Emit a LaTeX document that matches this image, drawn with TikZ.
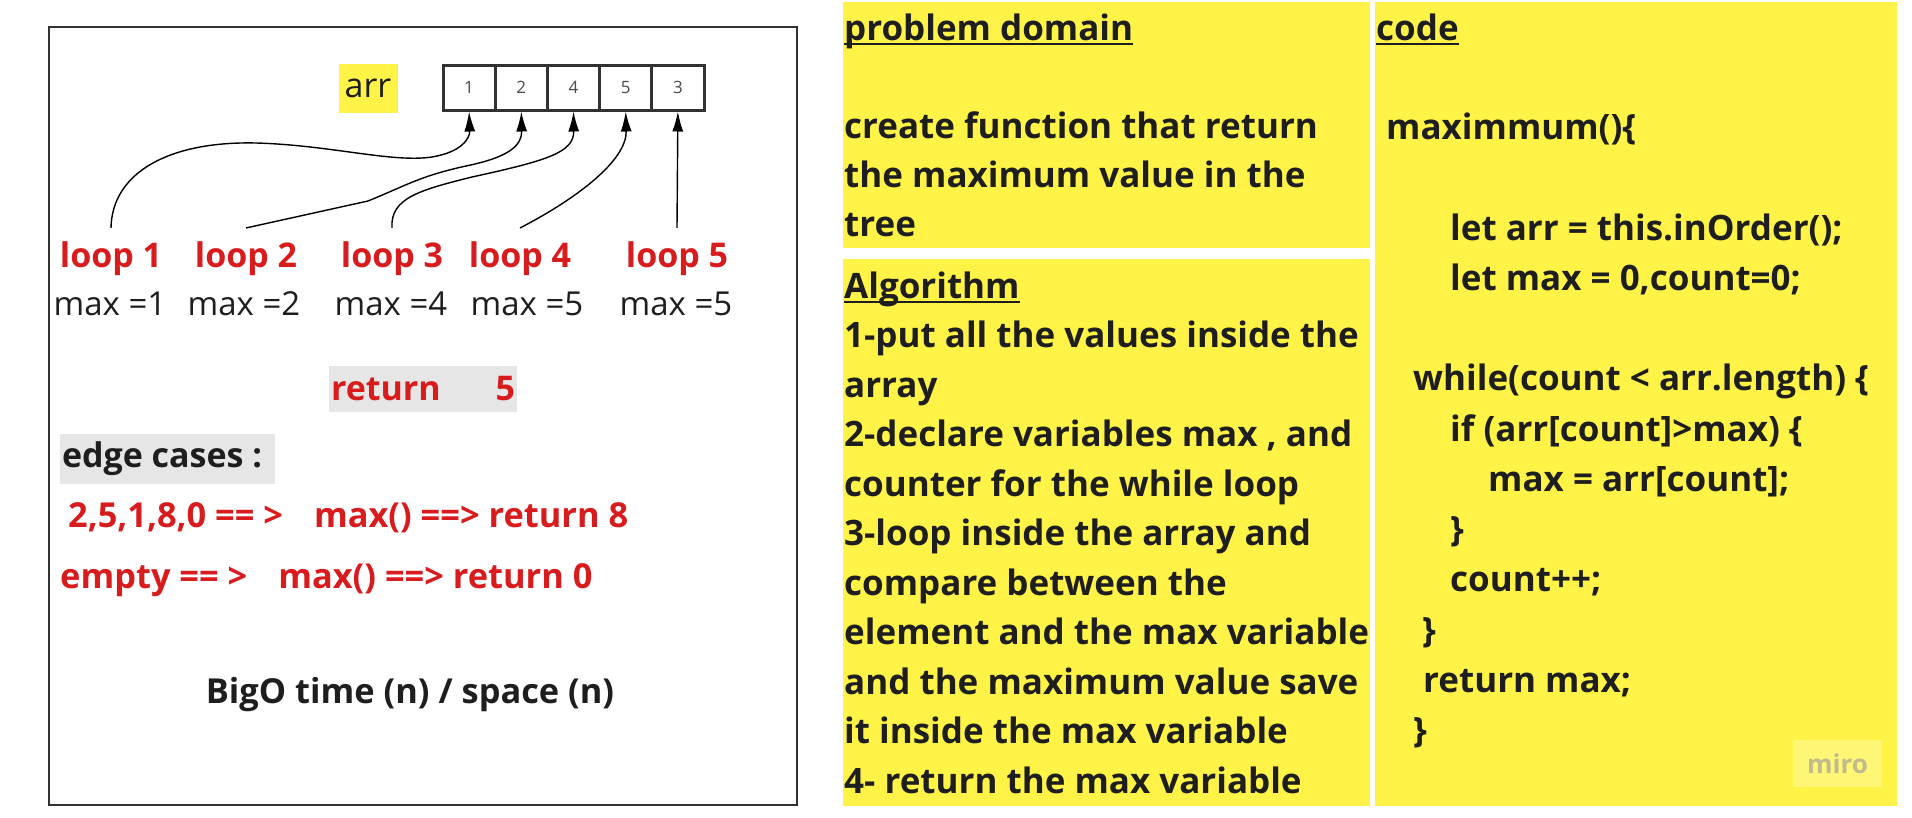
\documentclass[tikz,border=0pt]{standalone}
\usepackage{fontspec}
\setmainfont{Open Sans}
\usetikzlibrary{arrows.meta}
\definecolor{sticky}{RGB}{255,243,72}
\definecolor{ink}{RGB}{30,30,30}
\definecolor{redtxt}{RGB}{216,28,30}
\definecolor{grayfill}{RGB}{230,230,230}
\definecolor{framecol}{RGB}{50,50,50}
\definecolor{mirobox}{RGB}{255,246,118}
\definecolor{mirotxt}{RGB}{192,187,140}
\tikzset{
  body/.style={font=\bfseries\fontsize{35}{44}\selectfont, text=ink, inner sep=0pt, anchor=base west},
  ulline/.style={line width=2pt, draw=ink},
  cell/.style={draw=framecol, line width=3pt, minimum width=52.2pt, minimum height=45pt, inner sep=0pt,
    font=\fontsize{17}{20}\selectfont, text=ink!80},
  looplbl/.style={font=\bfseries\fontsize{34}{40}\selectfont, text=redtxt, inner xsep=0pt, inner ysep=13pt, anchor=base},
  maxlbl/.style={font=\fontsize{33}{40}\selectfont, text=ink, inner sep=0pt, anchor=base},
  redline/.style={font=\bfseries\fontsize{34.4}{40}\selectfont, text=redtxt, inner sep=0pt, anchor=base west},
  graybox/.style={fill=grayfill, inner xsep=1pt, inner ysep=0pt},
  conn/.style={draw=black, line width=1.4pt, -{Latex[length=20pt,width=11pt]}},
}
\begin{document}
\begin{tikzpicture}[x=1pt,y=-1pt]
\useasboundingbox (0,0) rectangle (1912,817);
\fill[white] (0,0) rectangle (1912,817);

% ---------- left board ----------
\draw[draw=framecol, line width=2.5pt] (49,27) rectangle (797,805);

\node[fill=sticky, minimum width=59pt, minimum height=49pt, inner sep=0pt,
      font=\fontsize{34}{40}\selectfont, text=ink] (arrlbl) at (368,88) {arr};

\foreach \v [count=\i] in {1,2,4,5,3}
  \node[cell] (a\i) at ({469.1+52.2*(\i-1)},87.5) {\v};

\node[looplbl] (l1) at (111,267) {loop 1};
\node[looplbl] (l2) at (246,267) {loop 2};
\node[looplbl] (l3) at (392,267) {loop 3};
\node[looplbl] (l4) at (520,267) {loop 4};
\node[looplbl] (l5) at (677,267) {loop 5};

\node[maxlbl] (m1) at (110,315) {max =1};
\node[maxlbl] (m2) at (244,315) {max =2};
\node[maxlbl] (m3) at (391,315) {max =4};
\node[maxlbl] (m4) at (527,315) {max =5};
\node[maxlbl] (m5) at (676,315) {max =5};

\draw[conn] (l1.north) .. controls (112,172) and (170,141) .. (256,143)
   .. controls (330,145) and (392,163) .. (432,157)
   .. controls (462,152) and (470,138) .. (a1.south);
\draw[conn] (l2.north) -- (368,201)
   .. controls (405,186) and (420,176) .. (466,166)
   .. controls (510,157) and (522,145) .. (a2.south);
\draw[conn] (l3.north) .. controls (390,198) and (420,190) .. (472,177)
   .. controls (550,160) and (574,152) .. (a3.south);
\draw[conn] (l4.north) .. controls (578,198) and (627,160) .. (a4.south);
\draw[conn] (l5.north) -- (a5.south);

\node[graybox, minimum width=188pt, minimum height=46pt,
      font=\bfseries\fontsize{34}{40}\selectfont, text=redtxt] (ret) at (423,389)
      {\makebox[184pt]{return\hfill 5}};

\node[graybox, minimum width=215pt, minimum height=50pt,
      font=\bfseries\fontsize{34}{40}\selectfont, text=ink] (edge) at (167.5,459)
      {\makebox[211pt][l]{edge cases :}};

\node[redline] (e1) at (68,527) {2,5,1,8,0 == >\hspace{22pt} max() ==> return 8};
\node[redline] (e2) at (60,588) {empty == >\hspace{22pt} max() ==> return 0};

\node[font=\bfseries\fontsize{34.4}{40}\selectfont, text=ink, inner sep=0pt, anchor=base]
      (bigo) at (410,703) {BigO time (n) / space (n)};

% ---------- yellow panels ----------
\fill[sticky] (843,2) rectangle (1370,248);
\fill[sticky] (843,259) rectangle (1370,806);
\fill[sticky] (1375,2) rectangle (1897,806);

% problem domain
\node[body] (pdh) at (844,40) {problem domain\hspace{0.27em}};
\draw[ulline] ([yshift=-4pt]pdh.base west) -- ([yshift=-4pt]pdh.base east);
\node[body] (pd1) at (844,138) {create function that return};
\node[body] (pd2) at (844,187) {the maximum value in the};
\node[body] (pd3) at (844,236) {tree};

% algorithm
\node[body] (alh) at (844,298) {Algorithm};
\draw[ulline] ([yshift=-4pt]alh.base west) -- ([yshift=-4pt]alh.base east);
\foreach \t [count=\i] in {{1-put all the values inside the},{array},
   {2-declare variables max , and},{counter for the while loop},
   {3-loop inside the array and},{compare between the},
   {element and the max variable},{and the maximum value save},
   {it inside the max variable},{4- return the max variable}}
  \node[body] (al\i) at (844,{298+49.5*\i}) {\t};

% code
\node[body] (cdh) at (1376,40) {code\hspace{0.27em}};
\draw[ulline] ([yshift=-4pt]cdh.base west) -- ([yshift=-4pt]cdh.base east);
\node[body] (c1) at (1386,139) {maximmum()\{};
\node[body] (c2) at (1450,240) {let arr = this.inOrder();};
\node[body] (c3) at (1450,290) {let max = 0,count=0;};
\node[body] (c4) at (1413,390) {while(count < arr.length) \{};
\node[body] (c5) at (1450,441) {if (arr[count]>max) \{};
\node[body] (c6) at (1488,491) {max = arr[count];};
\node[body] (c7) at (1450,541) {\}};
\node[body] (c8) at (1450,591) {count++;};
\node[body] (c9) at (1422,642) {\}};
\node[body] (c10) at (1423,692) {return max;};
\node[body] (c11) at (1413,742) {\}};

% watermark
\node[fill=mirobox, minimum width=89pt, minimum height=47pt, inner sep=0pt,
      font=\bfseries\fontsize{26}{30}\selectfont, text=mirotxt] (miro) at (1837.5,763.5) {miro};
\end{tikzpicture}
\end{document}
